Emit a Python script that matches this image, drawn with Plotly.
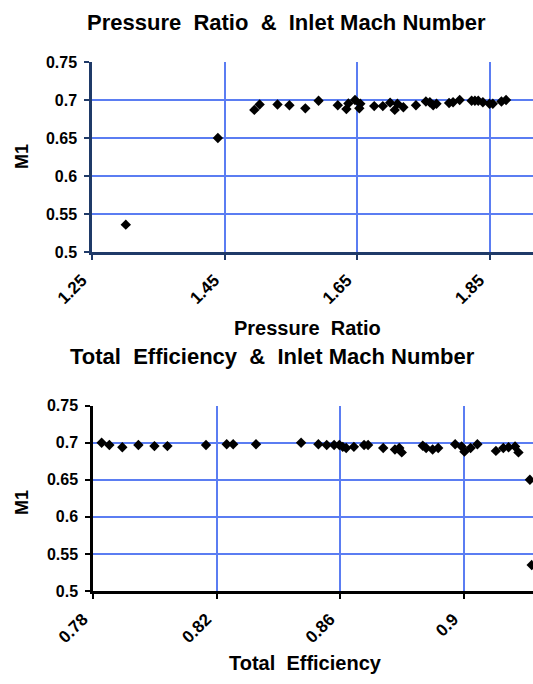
import plotly.graph_objects as go

# ---- data: Pressure ratio vs M1 ----
pressure_ratio = [1.301, 1.440, 1.495, 1.503, 1.530, 1.548, 1.572, 1.592, 1.621, 1.634,
                  1.637, 1.647, 1.6535, 1.655, 1.676, 1.689, 1.700, 1.707, 1.711, 1.720,
                  1.739, 1.754, 1.760, 1.765, 1.770, 1.789, 1.795, 1.805, 1.823, 1.828,
                  1.833, 1.840, 1.850, 1.855, 1.868, 1.875]
m1_pr = [0.536, 0.650, 0.687, 0.694, 0.694, 0.693, 0.689, 0.699, 0.693, 0.688,
         0.6955, 0.700, 0.689, 0.695, 0.692, 0.692, 0.6965, 0.687, 0.695, 0.6905,
         0.693, 0.698, 0.697, 0.693, 0.695, 0.696, 0.697, 0.700, 0.699, 0.699,
         0.699, 0.697, 0.695, 0.695, 0.698, 0.700]

# ---- data: Total efficiency vs M1 ----
total_eff = [0.7828, 0.7853, 0.7895, 0.7947, 0.7999, 0.8041, 0.8166, 0.8233, 0.8254, 0.8328,
             0.8474, 0.8530, 0.8557, 0.8581, 0.8598, 0.8609, 0.8620, 0.8645, 0.8678, 0.8691,
             0.8740, 0.8778, 0.8792, 0.8800, 0.8868, 0.8879, 0.8900, 0.8918, 0.8973, 0.8994,
             0.9003, 0.9023, 0.9045, 0.9105, 0.9129, 0.9146, 0.9167, 0.9178, 0.9215, 0.9221]
m1_eff = [0.700, 0.697, 0.694, 0.697, 0.6955, 0.6955, 0.697, 0.698, 0.698, 0.698,
          0.700, 0.698, 0.697, 0.697, 0.697, 0.6945, 0.693, 0.6945, 0.697, 0.697,
          0.693, 0.691, 0.693, 0.687, 0.696, 0.693, 0.691, 0.693, 0.698, 0.695,
          0.688, 0.693, 0.698, 0.689, 0.693, 0.694, 0.695, 0.687, 0.650, 0.535]

pr_ticks = [1.25, 1.45, 1.65, 1.85]
eff_ticks = [0.78, 0.82, 0.86, 0.9]
m1_ticks = [0.5, 0.55, 0.6, 0.65, 0.7, 0.75]

W, H = 533, 684
FONT = "Liberation Sans, Arial, sans-serif"
GRID = "#5B7DF2"
NAVY = "#1F3A68"
NBSP = "\u00a0"

fig = go.Figure()
marker = dict(symbol="diamond", color="black", size=8, line=dict(width=0))
fig.add_trace(go.Scatter(x=pressure_ratio, y=m1_pr, mode="markers", marker=marker,
                         xaxis="x", yaxis="y", showlegend=False))
fig.add_trace(go.Scatter(x=total_eff, y=m1_eff, mode="markers", marker=marker,
                         xaxis="x2", yaxis="y2", showlegend=False))

ytickfont = dict(family=FONT, size=16, color="black", weight="bold")
xtickfont = dict(family=FONT, size=17, color="black", weight="bold")

def xax(domain, rng, ticks, anchor, linecolor):
    return dict(domain=domain, range=rng, tickvals=ticks,
                ticktext=[f"{t:g}" + NBSP * 3 for t in ticks],
                anchor=anchor, showgrid=True, gridcolor=GRID, gridwidth=1.5,
                showline=True, linecolor=linecolor, linewidth=2.5, ticks="outside",
                ticklen=5, tickwidth=2, tickcolor=linecolor, tickangle=-45,
                tickfont=xtickfont, zeroline=False, ticklabelstandoff=-6, automargin=False)

def yax(domain, ticks, anchor, linecolor):
    return dict(domain=domain, range=[0.5, 0.75], tickvals=ticks,
                ticktext=[f"{t:g}" for t in ticks], anchor=anchor,
                showgrid=True, gridcolor=GRID, gridwidth=1.5,
                showline=True, linecolor=linecolor, linewidth=2.5, ticks="outside",
                ticklen=5, tickwidth=2, tickcolor=linecolor,
                tickfont=ytickfont, zeroline=False, ticklabelstandoff=4, automargin=False)

def px_x(v):
    return v / W

def px_y(v):
    return 1 - v / H

top_x = [px_x(92), 1.0]
top_y = [px_y(252), px_y(62)]
bot_x = [px_x(93), 1.0]
bot_y = [px_y(591), px_y(405.7)]

fig.update_layout(
    width=W, height=H,
    margin=dict(l=0, r=0, t=0, b=0, autoexpand=False),
    paper_bgcolor="white", plot_bgcolor="white",
    xaxis=xax(top_x, [1.25, 1.25 + 441 / 662.5], pr_ticks, "y", NAVY),
    yaxis=yax(top_y, m1_ticks, "x", NAVY),
    xaxis2=xax(bot_x, [0.78, 0.78 + 440 / 3087.5], eff_ticks, "y2", "black"),
    yaxis2=yax(bot_y, m1_ticks, "x2", "black"),
)

def ann(text, xpx, ypx, size, angle=0):
    fig.add_annotation(text=text, x=px_x(xpx), y=px_y(ypx), xref="paper", yref="paper",
                       showarrow=False, textangle=angle, xanchor="center", yanchor="middle",
                       font=dict(family=FONT, size=size, color="black", weight="bold"))

ann("Pressure  Ratio  &  Inlet Mach Number", 286, 22, 22)
ann("Pressure  Ratio", 307, 328, 20)
ann("M1", 22, 157, 18, -90)
ann("Total  Efficiency  &  Inlet Mach Number", 272, 357, 22)
ann("Total  Efficiency", 305, 663, 20)
ann("M1", 22, 503, 18, -90)

fig.write_html("out.html", config={"displayModeBar": False},
               post_script="document.body.style.margin='0';document.body.style.overflow='hidden';")
